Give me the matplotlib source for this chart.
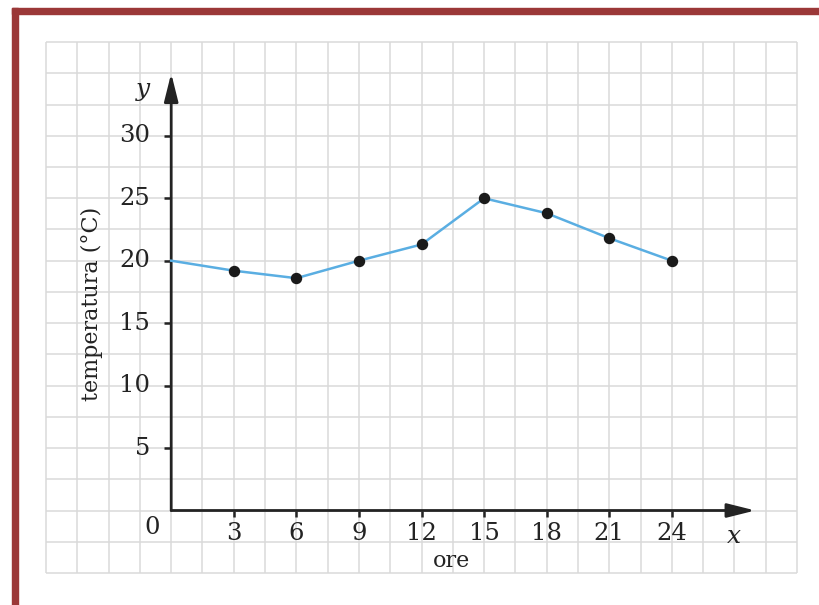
import matplotlib

matplotlib.use("Agg")
import matplotlib.pyplot as plt
from matplotlib.patches import Rectangle
import numpy as np

# data
ore = [0, 3, 6, 9, 12, 15, 18, 21, 24]
temperatura = [20.0, 19.2, 18.6, 20.0, 21.3, 25.0, 23.8, 21.8, 20.0]
x_ticks = [3, 6, 9, 12, 15, 18, 21, 24]
y_ticks = [5, 10, 15, 20, 25, 30]

INK = "#232323"
BLUE = "#5aaee2"
GRID = "#dadada"
FRAME = "#9b3838"
SERIF = "DejaVu Serif"

W, H = 819, 605
fig = plt.figure(figsize=(W / 100, H / 100), dpi=100)
fig.patch.set_facecolor("white")

# pixel -> data mapping: x=0 at px 171.2 (20.86 px/unit), y=0 at px 510.5 (12.49 px/unit)
sx, x0 = 20.86, 171.2
sy, y0 = 12.49, 510.5
ax = fig.add_axes([0, 0, 1, 1])
ax.set_xlim(-x0 / sx, (W - x0) / sx)
ax.set_ylim(-(H - y0) / sy, y0 / sy)
ax.axis("off")

# dark red frame (top and left)
fig.patches.append(Rectangle((12 / W, 0), 6 / W, 1 - 8 / H, transform=fig.transFigure,
                             color=FRAME, zorder=0))
fig.patches.append(Rectangle((12 / W, 1 - 14 / H), 1, 6 / H, transform=fig.transFigure,
                             color=FRAME, zorder=0))

# squared paper
gx = np.arange(-6, 30.01, 1.5)
gy = np.arange(-5, 37.51, 2.5)
ax.vlines(gx, gy[0], gy[-1], color=GRID, lw=1.1, zorder=1)
ax.hlines(gy, gx[0], gx[-1], color=GRID, lw=1.1, zorder=1)

# axes with arrows
arrow = dict(arrowstyle="-|>,head_length=1.0,head_width=0.25", color=INK, lw=2.0,
             mutation_scale=17, shrinkA=0, shrinkB=0)
ax.annotate("", xy=(28, 0), xytext=(0, 0), arrowprops=arrow, zorder=3)
ax.annotate("", xy=(0, 35), xytext=(0, 0), arrowprops=arrow, zorder=3)

# ticks
FS = 17.5
for t in x_ticks:
    ax.plot([t, t], [0, -0.55], color=INK, lw=1.8, zorder=3, solid_capstyle="butt")
    ax.text(t, -1.85, str(t), family=SERIF, fontsize=FS, color=INK, ha="center", va="center")
for t in y_ticks:
    ax.plot([0, -0.34], [t, t], color=INK, lw=1.8, zorder=3, solid_capstyle="butt")
    ax.text(-1.0, t, str(t), family=SERIF, fontsize=FS, color=INK, ha="right", va="center")
ax.text(-0.92, -1.4, "0", family=SERIF, fontsize=FS, color=INK, ha="center", va="center")

# axis names
ax.text(-1.35, 33.7, "y", family=SERIF, style="italic", fontsize=18, color=INK,
        ha="center", va="center")
ax.text(26.97, -2.12, "x", family=SERIF, style="italic", fontsize=18, color=INK,
        ha="center", va="center")
ax.text(13.45, -4.04, "ore", family=SERIF, fontsize=16, color=INK, ha="center", va="center")
ax.text(-3.8, 16.57, "temperatura (°C)", family=SERIF, fontsize=16, color=INK,
        ha="center", va="center", rotation=90)

# series
ax.plot(ore, temperatura, color=BLUE, lw=1.8, zorder=4,
        marker="o", markersize=7.2, markerfacecolor="#1a1a1a", markeredgecolor="#1a1a1a",
        markevery=slice(1, None))

fig.savefig("out.png", dpi=100, facecolor="white")
